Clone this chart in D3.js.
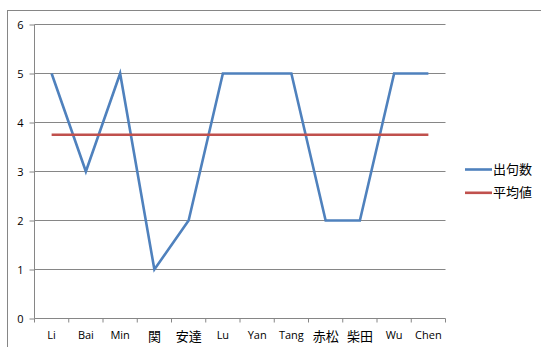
<!DOCTYPE html>
<html><head><meta charset="utf-8">
<script src="https://cdn.jsdelivr.net/npm/d3@7"></script>
<style>body{margin:0;background:#fff}svg{display:block}text{font-family:"Open Sans","Noto Sans CJK JP",sans-serif;fill:#000}</style>
</head><body><svg id="c" width="541" height="347"></svg>
<script>
const categories = ["Li","Bai","Min","関","安達","Lu","Yan","Tang","赤松","柴田","Wu","Chen"];
const counts = [5,3,5,1,2,5,5,5,2,2,5,5];
const averages = [3.75,3.75,3.75,3.75,3.75,3.75,3.75,3.75,3.75,3.75,3.75,3.75];
const yTicks = [0,1,2,3,4,5,6];
const seriesNames = ["出句数","平均値"];
const colors = ["#4F81BD","#C0504D"];

const isCJK = s => /[\u3000-\u9fff]/.test(s);

const svg = d3.select("#c");
svg.append("rect").attr("x",7.5).attr("y",10.5).attr("width",560).attr("height",360)
  .attr("fill","none").attr("stroke","#868686").attr("stroke-width",1);

const L=34.5, R=445.5, T=24.5, B=318.5;
const x = d3.scaleBand().domain(categories).range([L,R]);
const y = d3.scaleLinear().domain([0,6]).range([B,T]);

svg.append("g").selectAll("line").data(yTicks.filter(d=>d>0)).join("line")
  .attr("x1",L).attr("x2",R).attr("y1",d=>y(d)).attr("y2",d=>y(d))
  .attr("stroke","#868686").attr("stroke-width",1);

const ya = svg.append("g").attr("transform",`translate(${L},0)`)
  .call(d3.axisLeft(y).tickValues(yTicks).tickSize(5).tickPadding(6).tickFormat(d3.format("d")));
ya.select(".domain").attr("stroke","#868686").attr("d",`M0,${B}V${T}`);
ya.selectAll(".tick line").attr("stroke","#868686");
ya.selectAll("text").attr("font-size","11px").attr("font-family","'Open Sans'");

const xa = svg.append("g").attr("transform",`translate(0,${B})`)
  .call(d3.axisBottom(x).tickSize(0).tickPadding(13));
xa.select(".domain").attr("stroke","#868686").attr("d",`M${L},0H${R}`);
xa.selectAll(".tick text").attr("font-size",d=>isCJK(d)?"13px":"11px")
  .attr("font-family",d=>isCJK(d)?"'Noto Sans CJK JP'":"'Open Sans'");
xa.append("g").selectAll("line").data(d3.range(categories.length+1)).join("line")
  .attr("x1",i=>L+i*x.step()).attr("x2",i=>L+i*x.step()).attr("y1",0).attr("y2",4)
  .attr("stroke","#868686");

const line = d3.line().x((d,i)=>x(categories[i])+x.bandwidth()/2).y(d=>y(d));
svg.append("path").datum(counts).attr("d",line).attr("fill","none")
  .attr("stroke",colors[0]).attr("stroke-width",2.6).attr("stroke-linejoin","miter");
svg.append("path").datum(averages).attr("d",line).attr("fill","none")
  .attr("stroke",colors[1]).attr("stroke-width",2.6);

const lg = svg.append("g").selectAll("g").data(seriesNames).join("g")
  .attr("transform",(d,i)=>`translate(465,${169.5+i*23.3})`);
lg.append("line").attr("x1",0).attr("x2",27).attr("stroke",(d,i)=>colors[i]).attr("stroke-width",2.6);
lg.append("text").attr("x",28).attr("dy","0.35em").attr("font-size","13px")
  .attr("font-family","'Noto Sans CJK JP'").text(d=>d);
</script></body></html>
